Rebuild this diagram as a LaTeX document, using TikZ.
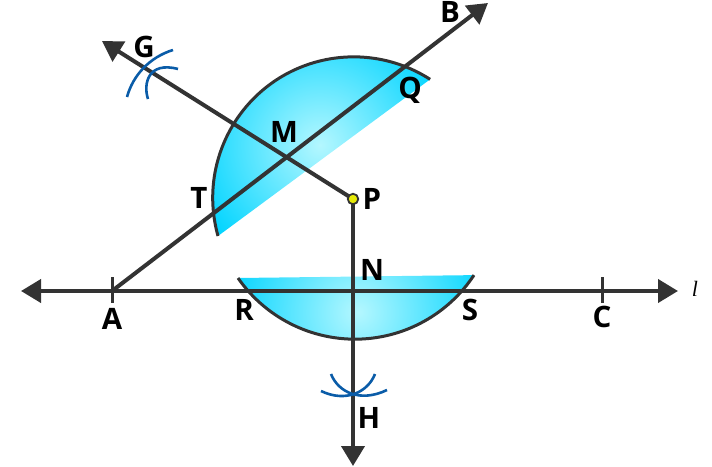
\documentclass[tikz,border=0pt]{standalone}
\usepackage{fontspec}
\setmainfont{Open Sans}
\newfontfamily\lfont{Liberation Serif}
\usetikzlibrary{arrows.meta,calc}
\definecolor{ink}{HTML}{333333}
\definecolor{arcblue}{HTML}{0A5CA8}
\definecolor{cyanout}{HTML}{00D4FF}
\definecolor{cyanin}{HTML}{B4F7FF}
\tikzset{
  x=1pt,y=-1pt,
  lineseg/.style={draw=ink,line width=4pt},
  rayline/.style={lineseg,-{Triangle[length=20pt,width=23pt]},shorten >=0pt},
  bothray/.style={lineseg,{Triangle[length=20pt,width=23pt]}-{Triangle[length=20pt,width=23pt]}},
  rim/.style={draw=ink,line width=3pt},
  compass/.style={draw=arcblue,line width=2.6pt},
  lbl/.style={font=\fontsize{29.5}{29.5}\selectfont\bfseries,text=black,inner sep=0pt,anchor=center},
}
\begin{document}
\begin{tikzpicture}
\useasboundingbox (0,0) rectangle (712,466);
\coordinate (A) at (112,291);
\coordinate (B) at (488,3);
\coordinate (G) at (102,41);
\coordinate (P) at (353,199);
\coordinate (H) at (353,466);
\coordinate (L) at (21,291);
\coordinate (R) at (678,291);
\coordinate (C) at (602,291);
\coordinate (U1) at (218,236);
\coordinate (D1) at (238,278);
% upper sector
\begin{scope}
\clip (U1) arc[start angle=-195.7,end angle=-57.2,radius=141] -- cycle;
\shade[inner color=cyanin,outer color=cyanout] (320,145) circle[radius=135];
\end{scope}
\path[rim] (U1) arc[start angle=-195.7,end angle=-57.2,radius=141];
% lower sector
\begin{scope}
\clip (D1) arc[start angle=-214.8,end angle=-326.6,radius=142.5] -- cycle;
\shade[inner color=cyanin,outer color=cyanout] (358,312) circle[radius=135];
\end{scope}
\path[rim] (D1) arc[start angle=-214.8,end angle=-326.6,radius=142.5];
% construction lines
\path[rayline] (A) -- (B);
\path[rayline] (P) -- (G);
\path[rayline] (P) -- (H);
\path[bothray] (L) -- (R);
\path[lineseg,line width=3pt] ($(A)+(0,-14)$) -- ($(A)+(0,12)$);
\path[lineseg,line width=3pt] ($(C)+(0,-14)$) -- ($(C)+(0,12)$);
% compass arcs
\path[compass] (127,97) .. controls (133,75) and (150,57) .. (173,50);
\path[compass] (148,99) .. controls (143,84) and (148,61) .. (178,69);
\path[compass] (331,374) .. controls (338,392) and (360,403) .. (387,390);
\path[compass] (375,374) .. controls (368,392) and (346,403) .. (321,391);
% point P
\node[circle,draw=ink,line width=1.8pt,fill=yellow!90!green,minimum size=10.5pt,inner sep=0pt] (Pdot) at (P) {};
% labels
\node[lbl] (lG) at (144,47) {G};
\node[lbl] (lT) at (199,198) {T};
\node[lbl] (lM) at (284,132) {M};
\node[lbl] (lQ) at (410,90) {Q};
\node[lbl] (lB) at (450,12) {B};
\node[lbl] (lP) at (372,199) {P};
\node[lbl] (lN) at (372,270) {N};
\node[lbl] (lR) at (244,310) {R};
\node[lbl] (lS) at (470,310) {S};
\node[lbl] (lA) at (112,319) {A};
\node[lbl] (lC) at (602,317) {C};
\node[lbl] (lH) at (369,418) {H};
\node[inner sep=0pt,font=\lfont\fontsize{22}{22}\selectfont\itshape] (ll) at (695,289) {l};
\end{tikzpicture}
\end{document}
